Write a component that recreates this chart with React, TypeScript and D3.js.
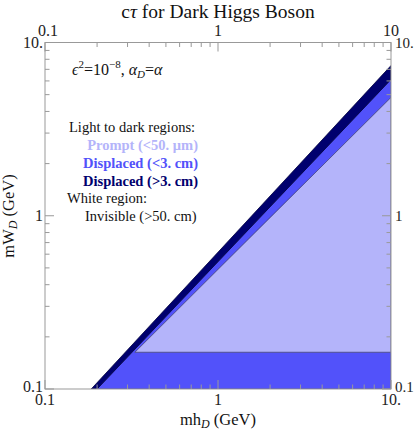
import React from "react";
import * as d3 from "d3";

// ---- data (GeV) ----
const xDomain = [0.1, 10];
const yDomain = [0.1, 10];
const majorTicks = [0.1, 1, 10];
const bottomLabels = ["0.1", "1", "10."];
const topLabels = ["0.1", "1", "10"];
const leftLabels = ["0.1", "1", "10."];
const rightLabels = ["0.1", "1", "10."];

// boundary of the white (invisible) region and the dark band (mh, mW)
const upperEdge: [number, number][] = [[0.185, 0.1], [10, 7.36]];
// boundary between dark band and medium band
const darkMediumEdge: [number, number][] = [[0.2, 0.1], [10, 6.12]];
// boundary between medium band and prompt (light) region
const mediumLightEdge: [number, number][] = [[0.331, 0.163], [1, 0.49], [10, 4.82]];
// horizontal floor of the prompt region
const promptFloor = 0.163;

const regionColors = ["#b4b4fa", "#5252fa", "#00006e"];
const regionStrokes = ["#505090", "#2a2ab0", "#000040"];
const legendItems = ["Prompt (<50. \u03bcm)", "Displaced (<3. cm)", "Displaced (>3. cm)"];

const W = 415, H = 431;
const L = 45, R = 391, T = 42.5, B = 389;

export default function App() {
  const x = d3.scaleLog().domain(xDomain).range([L, R]);
  const y = d3.scaleLog().domain(yDomain).range([B, T]);
  const line = d3.line<[number, number]>().x(d => x(d[0])).y(d => y(d[1]));

  const xMax = xDomain[1], yMin = yDomain[0];
  const darkPoly: [number, number][] = [
    ...upperEdge,
    ...[...darkMediumEdge].reverse(),
  ];
  const mediumPoly: [number, number][] = [
    ...darkMediumEdge,
    ...[...mediumLightEdge].reverse(),
    [xMax, promptFloor],
    [xMax, yMin],
  ];
  const lightPoly: [number, number][] = [
    ...mediumLightEdge,
    [xMax, promptFloor],
  ];

  const minor: number[] = [];
  for (let e = -1; e < 1; e++) for (let k = 2; k <= 9; k++) minor.push(k * Math.pow(10, e));

  const font = "'Liberation Serif', 'Times New Roman', 'DejaVu Serif', serif";
  const tickCol = "#999";
  const maj = 9, mnr = 4.5;

  return (
    <svg width={W} height={H} style={{ position: "absolute", left: 0, top: 0, fontFamily: font }}>
      <rect x={0} y={0} width={W} height={H} fill="white" />
      <defs>
        <clipPath id="plot"><rect x={L} y={T} width={R - L} height={B - T} /></clipPath>
      </defs>
      <g clipPath="url(#plot)">
        <path d={line(mediumPoly)! + "Z"} fill={regionColors[1]} stroke={regionStrokes[1]} strokeWidth={0.8} />
        <path d={line(lightPoly)! + "Z"} fill={regionColors[0]} stroke={regionStrokes[0]} strokeWidth={0.9} />
        <path d={line(darkPoly)! + "Z"} fill={regionColors[2]} stroke={regionStrokes[2]} strokeWidth={0.8} />
      </g>
      {/* frame */}
      <rect x={L} y={T} width={R - L} height={B - T} fill="none" stroke={tickCol} strokeWidth={1} />
      {/* ticks */}
      <g stroke={tickCol} strokeWidth={1}>
        {majorTicks.map((t, i) => (
          <g key={"M" + i}>
            <line x1={x(t)} x2={x(t)} y1={B} y2={B - maj} />
            <line x1={x(t)} x2={x(t)} y1={T} y2={T + maj} />
            <line y1={y(t)} y2={y(t)} x1={L} x2={L + maj} />
            <line y1={y(t)} y2={y(t)} x1={R} x2={R - maj} />
          </g>
        ))}
        {minor.map((t, i) => (
          <g key={"m" + i}>
            <line x1={x(t)} x2={x(t)} y1={B} y2={B - mnr} />
            <line x1={x(t)} x2={x(t)} y1={T} y2={T + mnr} />
            <line y1={y(t)} y2={y(t)} x1={L} x2={L + mnr} />
            <line y1={y(t)} y2={y(t)} x1={R} x2={R - mnr} />
          </g>
        ))}
      </g>
      {/* tick labels */}
      <g fontSize={16} fill="#222">
        {majorTicks.map((t, i) => (
          <text key={"b" + i} x={x(t)} y={405} textAnchor="middle">{bottomLabels[i]}</text>
        ))}
        {majorTicks.map((t, i) => (
          <text key={"t" + i} x={x(t) + (i === 0 ? 3 : 0)} y={36} textAnchor="middle">{topLabels[i]}</text>
        ))}
        {majorTicks.map((t, i) => (
          <text key={"l" + i} x={L - 2} y={y(t) + (i === 0 ? 3 : 5)} textAnchor="end">{leftLabels[i]}</text>
        ))}
        {majorTicks.map((t, i) => (
          <text key={"r" + i} x={R + 4} y={y(t) + (i === 0 ? 3 : 5)} fontSize={15} textAnchor="start">{rightLabels[i]}</text>
        ))}
      </g>
      {/* title */}
      <text x={218} y={17.5} textAnchor="middle" fontSize={19.5} fill="#111">c<tspan fontStyle="italic">τ</tspan> for Dark Higgs Boson</text>
      {/* axis labels */}
      <text x={218} y={425} textAnchor="middle" fontSize={16.5} fill="#111">
        mh<tspan fontSize={12} fontStyle="italic" dy={2.5}>D</tspan><tspan dy={-2.5}> (GeV)</tspan>
      </text>
      <text transform="translate(14,216) rotate(-90)" textAnchor="middle" fontSize={16.5} fill="#111">
        mW<tspan fontSize={12} fontStyle="italic" dy={3}>D</tspan><tspan dy={-3}> (GeV)</tspan>
      </text>
      {/* annotation */}
      <text x={72} y={75} fontSize={16} fill="#111">
        <tspan fontStyle="italic">ϵ</tspan><tspan fontSize={11} dy={-7}>2</tspan><tspan dy={7}>=10</tspan><tspan fontSize={11} dy={-7}>−8</tspan><tspan dy={7}>, </tspan><tspan fontStyle="italic">α</tspan><tspan fontSize={11} fontStyle="italic" dy={3}>D</tspan><tspan dy={-3}>=</tspan><tspan fontStyle="italic">α</tspan>
      </text>
      {/* legend */}
      <g fontSize={14.5} fill="#111">
        <text x={69} y={132}>Light to dark regions:</text>
        {legendItems.map((s, i) => (
          <text key={s} x={198} y={150 + i * 18} textAnchor="end" fontWeight="bold" fill={regionColors[i]}>{s}</text>
        ))}
        <text x={67} y={203}>White region:</text>
        <text x={85} y={221}>Invisible (&gt;50. cm)</text>
      </g>
    </svg>
  );
}
